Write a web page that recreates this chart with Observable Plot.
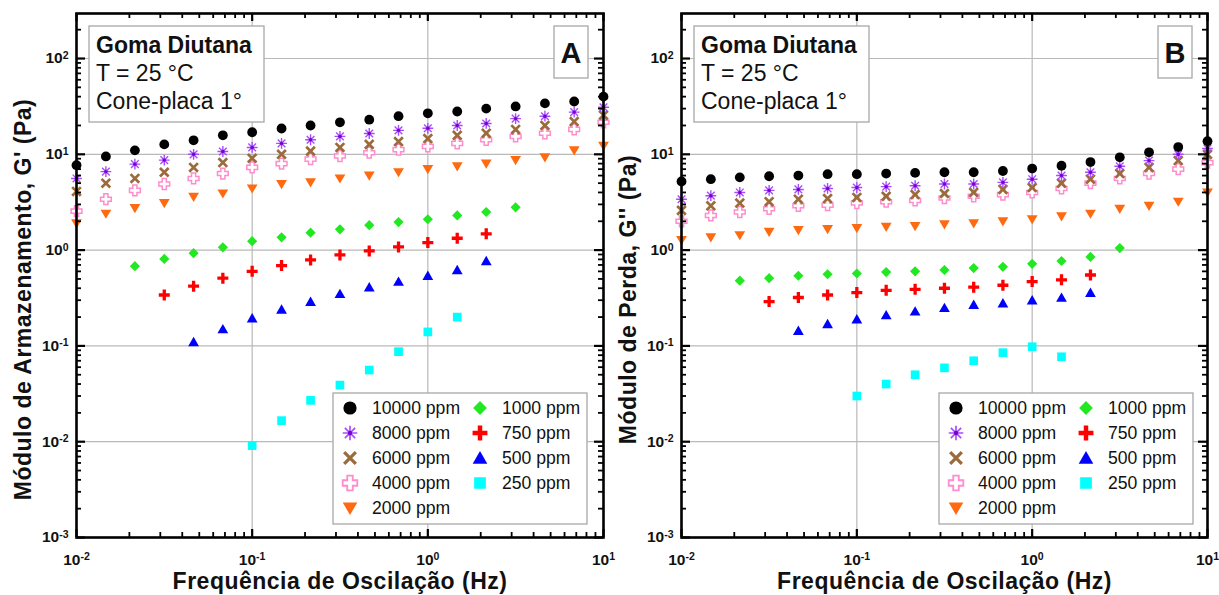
<!DOCTYPE html>
<html>
<head>
<meta charset="utf-8">
<script src="https://cdn.jsdelivr.net/npm/d3@7"></script>
<script src="https://cdn.jsdelivr.net/npm/@observablehq/plot@0.6"></script>
<style>
  html, body { margin: 0; padding: 0; background: #fff; }
  #wrap { position: relative; width: 1219px; height: 595px; overflow: hidden; }
  #wrap > svg { position: absolute; top: 0; }
</style>
</head>
<body>
<div id="wrap"></div>
<script>
// ---------- DATA ----------
const freq = [0.01, 0.0147, 0.0215, 0.0316, 0.0464, 0.0681, 0.1, 0.147, 0.215, 0.316, 0.464, 0.681, 1, 1.47, 2.15, 3.16, 4.64, 6.81, 10];
const seriesNames = ["10000 ppm", "8000 ppm", "6000 ppm", "4000 ppm", "2000 ppm", "1000 ppm", "750 ppm", "500 ppm", "250 ppm"];

// Panel A: storage modulus G' (Pa)
const gA_10000 = [7.7, 9.5, 11, 12.7, 14, 15.8, 17, 18.6, 20, 21.6, 23, 25, 26.8, 28, 30, 31.6, 34, 35.6, 40];
const gA_8000  = [5.6, 6.6, 7.9, 8.7, 10, 10.7, 11.8, 13, 14.2, 15.4, 16.5, 17.8, 18.7, 20, 21, 23.6, 25, 27.6, 31];
const gA_6000  = [4.1, 5, 5.6, 6.5, 7.3, 8.2, 9.1, 10, 10.8, 11.8, 12.7, 13.6, 14.6, 15.8, 16.6, 18.2, 20, 22, 25.6];
const gA_4000  = [2.55, 3.4, 4.2, 4.9, 5.6, 6.3, 7.3, 8, 8.9, 9.6, 10.4, 11.2, 12.1, 13, 14.2, 15.4, 16.6, 18.2, 21.6];
const gA_2000  = [1.9, 2.4, 2.75, 3.1, 3.6, 3.9, 4.4, 4.9, 5.1, 5.6, 6.0, 6.5, 7.0, 7.5, 8.0, 8.7, 9.3, 11, 12.3];
const gA_1000  = [null, null, 0.68, 0.81, 0.93, 1.07, 1.24, 1.36, 1.52, 1.65, 1.82, 1.96, 2.1, 2.3, 2.5, 2.8, null, null, null];
const gA_750   = [null, null, null, 0.34, 0.42, 0.51, 0.6, 0.69, 0.79, 0.89, 0.98, 1.08, 1.2, 1.33, 1.48, null, null, null, null];
const gA_500   = [null, null, null, null, 0.11, 0.15, 0.195, 0.24, 0.29, 0.35, 0.41, 0.47, 0.54, 0.62, 0.77, null, null, null, null];
const gA_250   = [null, null, null, null, null, null, 0.0091, 0.0166, 0.027, 0.039, 0.056, 0.087, 0.14, 0.2, null, null, null, null, null];

// Panel B: loss modulus G'' (Pa)
const gB_10000 = [5.2, 5.5, 5.75, 5.9, 6.0, 6.2, 6.2, 6.3, 6.4, 6.5, 6.5, 6.7, 7.1, 7.6, 8.3, 9.3, 10.5, 11.9, 13.7];
const gB_8000  = [3.4, 3.7, 4.0, 4.2, 4.3, 4.4, 4.5, 4.6, 4.7, 4.9, 4.9, 5.1, 5.5, 6.0, 6.5, 7.5, 8.6, 10.0, 11.5];
const gB_6000  = [2.6, 2.9, 3.1, 3.2, 3.4, 3.45, 3.55, 3.65, 3.8, 3.9, 4.0, 4.3, 4.5, 5.0, 5.5, 6.3, 7.3, 8.6, 10.0];
const gB_4000  = [2.0, 2.3, 2.5, 2.7, 2.9, 2.95, 3.1, 3.2, 3.3, 3.5, 3.65, 3.8, 4.0, 4.4, 5.0, 5.6, 6.3, 7.0, 8.2];
const gB_2000  = [1.27, 1.36, 1.43, 1.55, 1.62, 1.66, 1.7, 1.75, 1.78, 1.86, 1.9, 2.0, 2.1, 2.25, 2.4, 2.7, 2.9, 3.2, 4.0];
const gB_1000  = [null, null, 0.48, 0.51, 0.54, 0.56, 0.57, 0.59, 0.6, 0.62, 0.65, 0.67, 0.72, 0.77, 0.85, 1.05, null, null, null];
const gB_750   = [null, null, null, 0.29, 0.32, 0.34, 0.36, 0.38, 0.39, 0.40, 0.41, 0.43, 0.47, 0.49, 0.55, null, null, null, null];
const gB_500   = [null, null, null, null, 0.144, 0.17, 0.19, 0.21, 0.23, 0.25, 0.27, 0.28, 0.30, 0.32, 0.36, null, null, null, null];
const gB_250   = [null, null, null, null, null, null, 0.030, 0.040, 0.050, 0.059, 0.070, 0.085, 0.098, 0.077, null, null, null, null, null];

const xDecades = [0.01, 0.1, 1, 10];
const yDecades = [1e-3, 1e-2, 1e-1, 1, 10, 100];
const infoLines = ["Goma Diutana", "T = 25 °C", "Cone-placa 1°"];
const xTitle = "Frequência de Oscilação (Hz)";

// ---------- SYMBOLS ----------
const sym = fn => ({ draw(ctx, size) { fn(ctx, Math.sqrt(size / Math.PI)); } });
const plusPoly = (ctx, r, w) => {
  const p = [[-w,-r],[w,-r],[w,-w],[r,-w],[r,w],[w,w],[w,r],[-w,r],[-w,w],[-r,w],[-r,-w],[-w,-w]];
  ctx.moveTo(p[0][0], p[0][1]);
  for (let i = 1; i < p.length; i++) ctx.lineTo(p[i][0], p[i][1]);
  ctx.closePath();
};
const symCircle = d3.symbolCircle;
const symAst = sym((ctx, r) => {
  for (let i = 0; i < 4; i++) {
    const a = i * Math.PI / 4, c = Math.cos(a) * r, s = Math.sin(a) * r;
    ctx.moveTo(c, s); ctx.lineTo(-c, -s);
  }
});
const symTimes = sym((ctx, r) => {
  const k = r * 0.8;
  ctx.moveTo(-k, -k); ctx.lineTo(k, k); ctx.moveTo(k, -k); ctx.lineTo(-k, k);
});
const symPlusOutline = sym((ctx, r) => plusPoly(ctx, r, r * 0.38));
const symTriDown = sym((ctx, r) => { ctx.moveTo(-r, -0.75 * r); ctx.lineTo(r, -0.75 * r); ctx.lineTo(0, 0.95 * r); ctx.closePath(); });
const symDiamond = sym((ctx, r) => { ctx.moveTo(0, -r); ctx.lineTo(r, 0); ctx.lineTo(0, r); ctx.lineTo(-r, 0); ctx.closePath(); });
const symPlus = sym((ctx, r) => plusPoly(ctx, r, r * 0.3));
const symTriUp = sym((ctx, r) => { ctx.moveTo(-r, 0.8 * r); ctx.lineTo(r, 0.8 * r); ctx.lineTo(0, -0.95 * r); ctx.closePath(); });
const symSquare = sym((ctx, r) => { const h = 0.85 * r; ctx.rect(-h, -h, 2 * h, 2 * h); });

const styles = [
  { symbol: symCircle, r: 4.9, fill: "#000000", stroke: "none", sw: 0 },
  { symbol: symAst, r: 5.4, fill: "none", stroke: "#a64dff", sw: 1.4, center: "#7a00cc" },
  { symbol: symTimes, r: 5.4, fill: "none", stroke: "#9c6b3c", sw: 2.7 },
  { symbol: symPlusOutline, r: 5.4, fill: "#ffffff", stroke: "#ff8ccc", sw: 1.5 },
  { symbol: symTriDown, r: 5.4, fill: "#ff6a10", stroke: "none", sw: 0 },
  { symbol: symDiamond, r: 5.1, fill: "#22e822", stroke: "none", sw: 0 },
  { symbol: symPlus, r: 5.5, fill: "#ff0000", stroke: "none", sw: 0 },
  { symbol: symTriUp, r: 5.4, fill: "#0000ff", stroke: "none", sw: 0 },
  { symbol: symSquare, r: 5.1, fill: "#00ffff", stroke: "none", sw: 0 }
];

// ---------- LAYOUT ----------
const H = 595, MT = 13, MB = 58;
const FONT = "'Liberation Sans', Arial, Helvetica, sans-serif";
const fmt = d => `10^${Math.round(Math.log10(d))}`;

function minorTicks(decs, max) {
  const out = [];
  for (const d of decs) for (let m = 2; m <= 9; m++) if (d * m <= max) out.push(d * m);
  return out;
}
const yMax = Math.pow(10, 2.47);
const xMinor = minorTicks([0.01, 0.1, 1], 10);
const yMinor = minorTicks(yDecades, yMax);

function panel({ width, left, ml, mr, series, yTitle, letter }) {
  const FW = width - ml - mr, FH = H - MT - MB;
  const rows = [];
  series.forEach((vals, si) => vals.forEach((v, i) => { if (v != null) rows.push({ f: freq[i], g: v, s: si }); }));
  const dotMarks = [];
  for (let si = series.length - 1; si >= 0; si--) {
    const st = styles[si];
    const data = rows.filter(d => d.s === si);
    dotMarks.push(Plot.dot(data, { x: "f", y: "g", symbol: st.symbol, r: st.r, fill: st.fill, stroke: st.stroke, strokeWidth: st.sw }));
    if (st.center) dotMarks.push(Plot.dot(data, { x: "f", y: "g", r: 1.7, fill: st.center }));
  }
  const tickCommon = { stroke: "#000", strokeWidth: 1.8 };
  const titleStyle = { fontSize: 23, fontWeight: "bold", fill: "#111", textAnchor: "middle", lineAnchor: "middle" };
  const svg = Plot.plot({
    width, height: H, marginLeft: ml, marginRight: mr, marginTop: MT, marginBottom: MB,
    style: { fontFamily: FONT, background: "transparent", overflow: "visible" },
    x: { type: "log", domain: [0.01, 10], label: null },
    y: { type: "log", domain: [1e-3, yMax], label: null },
    marks: [
      Plot.ruleX(xDecades.slice(1, -1), { x: d => d, stroke: "#b9b9b9", strokeWidth: 1.2 }),
      Plot.ruleY(yDecades.slice(1), { y: d => d, stroke: "#b9b9b9", strokeWidth: 1.2 }),
      ...dotMarks,
      // minor & major ticks, all four sides, inward
      Plot.ruleX(xMinor, { x: d => d, insetTop: FH - 5, ...tickCommon }),
      Plot.ruleX(xMinor, { x: d => d, insetBottom: FH - 5, ...tickCommon }),
      Plot.ruleX(xDecades, { x: d => d, insetTop: FH - 8, ...tickCommon, strokeWidth: 2.2 }),
      Plot.ruleX(xDecades, { x: d => d, insetBottom: FH - 8, ...tickCommon, strokeWidth: 2.2 }),
      Plot.ruleY(yMinor, { y: d => d, insetRight: FW - 5, ...tickCommon }),
      Plot.ruleY(yMinor, { y: d => d, insetLeft: FW - 5, ...tickCommon }),
      Plot.ruleY(yDecades, { y: d => d, insetRight: FW - 9, ...tickCommon, strokeWidth: 2.2 }),
      Plot.ruleY(yDecades, { y: d => d, insetLeft: FW - 9, ...tickCommon, strokeWidth: 2.2 }),
      Plot.frame({ stroke: "#000", strokeWidth: 2.6 }),
      Plot.axisX(xDecades, { anchor: "bottom", tickSize: 0, tickPadding: 16, tickFormat: fmt, fontSize: 15.5, fontWeight: "bold", fill: "#111", label: null }),
      Plot.axisY(yDecades, { anchor: "left", tickSize: 0, tickPadding: 8, tickFormat: fmt, fontSize: 15.5, fontWeight: "bold", fill: "#111", label: null }),
      Plot.text([xTitle], { text: d => d, frameAnchor: "bottom", dy: 44, ...titleStyle }),
      Plot.text([yTitle], { text: d => d, frameAnchor: "left", rotate: -90, dx: -53, dy: 24, ...titleStyle })
    ]
  });
  svg.style.left = left + "px";
  const s = d3.select(svg);
  // superscript exponents on tick labels, letter-spacing on titles
  s.selectAll("text").each(function () {
    const t = this.textContent || "";
    const m = t.match(/^10\^(-?\d+)$/);
    if (m) {
      this.textContent = "10";
      d3.select(this).append("tspan").attr("dy", "-0.42em").attr("font-size", "0.68em").text(m[1]);
    } else if (t === xTitle || t === yTitle) {
      this.setAttribute("letter-spacing", "0.5");
    }
  });
  const fx = ml, fr = ml + FW, fb = MT + FH;
  const g = s.append("g").attr("font-family", FONT).attr("text-anchor", "start");
  // info box
  g.append("rect").attr("x", fx + 13).attr("y", 26).attr("width", 175).attr("height", 96)
    .attr("fill", "#fff").attr("stroke", "#a8a8a8").attr("stroke-width", 1.3);
  infoLines.forEach((t, i) => g.append("text").attr("x", fx + 20).attr("y", 53 + 28 * i)
    .attr("font-size", 23).attr("font-weight", i === 0 ? "bold" : "normal").attr("fill", "#111").text(t));
  // panel letter
  g.append("rect").attr("x", fr - 49).attr("y", 26).attr("width", 34).attr("height", 52)
    .attr("fill", "#fff").attr("stroke", "#a8a8a8").attr("stroke-width", 1.3);
  g.append("text").attr("x", fr - 32).attr("y", 63).attr("text-anchor", "middle")
    .attr("font-size", 29).attr("font-weight", "bold").attr("fill", "#111").text(letter);
  // legend
  const lw = 254, lh = 131, lx = fr - 16 - lw + (letter === "B" ? 2 : 0), ly = fb - 13 - lh;
  g.append("rect").attr("x", lx).attr("y", ly).attr("width", lw).attr("height", lh)
    .attr("fill", "#fff").attr("stroke", "#a8a8a8").attr("stroke-width", 1.3);
  seriesNames.forEach((name, i) => {
    const col = i < 5 ? 0 : 1, row = i < 5 ? i : i - 5;
    const cx = lx + (col ? 147 : 17), cy = ly + 15 + 25 * row;
    const st = styles[i], rr = st.r * 1.35;
    g.append("path").attr("transform", `translate(${cx},${cy})`)
      .attr("d", d3.symbol(st.symbol, Math.PI * rr * rr)())
      .attr("fill", st.fill).attr("stroke", st.stroke).attr("stroke-width", st.sw * 1.2);
    if (st.center) g.append("circle").attr("cx", cx).attr("cy", cy).attr("r", 2.2).attr("fill", st.center);
    g.append("text").attr("x", cx + 22).attr("y", cy).attr("dy", "0.32em")
      .attr("font-size", 17.6).attr("fill", "#111").text(name);
  });
  return svg;
}

const wrap = document.getElementById("wrap");
wrap.appendChild(panel({
  width: 610, left: 0, ml: 76, mr: 7,
  series: [gA_10000, gA_8000, gA_6000, gA_4000, gA_2000, gA_1000, gA_750, gA_500, gA_250],
  yTitle: "Módulo de Armazenamento, G' (Pa)", letter: "A"
}));
wrap.appendChild(panel({
  width: 609, left: 610, ml: 71, mr: 12,
  series: [gB_10000, gB_8000, gB_6000, gB_4000, gB_2000, gB_1000, gB_750, gB_500, gB_250],
  yTitle: "Módulo de Perda, G'' (Pa)", letter: "B"
}));
</script>
</body>
</html>
